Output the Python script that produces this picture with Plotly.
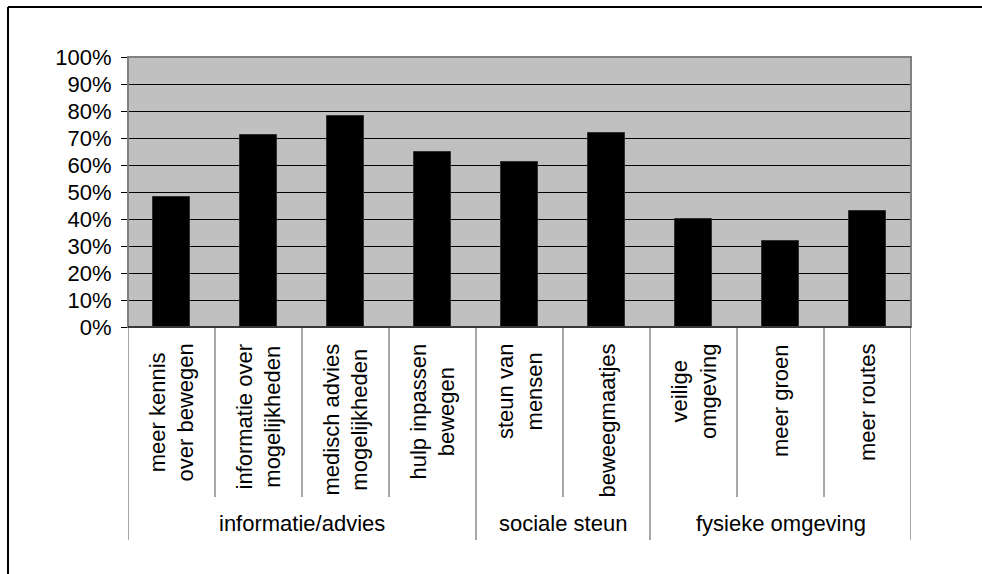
import plotly.graph_objects as go

# Survey results: share of respondents per wish, grouped by theme
labels = [
    "meer kennis<br>over bewegen",
    "informatie over<br>mogelijkheden",
    "medisch advies<br>mogelijkheden",
    "hulp inpassen<br>bewegen",
    "steun van<br>mensen",
    "beweegmaatjes",
    "veilige<br>omgeving",
    "meer groen",
    "meer routes",
]
values = [48, 71, 78, 65, 61, 72, 40, 32, 43]
groups = ["informatie/advies", "sociale steun", "fysieke omgeving"]
group_sizes = [4, 2, 3]

W, H = 982, 574
L, R, T, B = 128, 911, 57, 327  # plot-area edges in pixels

FONT = "Liberation Sans, Arial, sans-serif"
FS = 22


def py(p):
    """pixel row -> paper y"""
    return (B - p) / (B - T)


def px(p):
    """pixel column -> paper x"""
    return (p - L) / (R - L)


x_idx = list(range(len(values)))

fig = go.Figure(
    go.Bar(
        x=x_idx,
        y=values,
        width=0.42,
        marker=dict(color="black", line=dict(color="#303030", width=1)),
        hoverinfo="skip",
    )
)

shapes = []
annotations = []

# category labels (rotated) and separators under the axis
for i, lab in enumerate(labels):
    annotations.append(dict(
        x=i, xref="x", y=py(342), yref="paper",
        text=lab, textangle=-90, showarrow=False,
        xanchor="center", yanchor="top", align="center",
        font=dict(family=FONT, size=FS, color="black"),
    ))

bounds = [0]
for s in group_sizes:
    bounds.append(bounds[-1] + s)

for k in range(len(values) + 1):
    xpos = k - 0.5
    long_line = k in bounds
    shapes.append(dict(
        type="line", xref="x", yref="paper",
        x0=xpos, x1=xpos, y0=0, y1=py(540 if long_line else 497),
        line=dict(color="#505050", width=1),
    ))

# group labels
for g, a, b in zip(groups, bounds[:-1], bounds[1:]):
    annotations.append(dict(
        x=(a + b - 1) / 2, xref="x", y=py(523), yref="paper",
        text=g, showarrow=False, xanchor="center", yanchor="middle",
        font=dict(family=FONT, size=FS, color="black"),
    ))

# plot-area frame
shapes.append(dict(
    type="rect", xref="paper", yref="paper", x0=0, x1=1, y0=0, y1=1,
    line=dict(color="#808080", width=2), layer="above",
))
shapes.append(dict(
    type="line", xref="paper", yref="paper", x0=0, x1=1, y0=0, y1=0,
    line=dict(color="#202020", width=1.5), layer="above",
))

# outer chart border (top and left edges)
shapes.append(dict(
    type="line", xref="paper", yref="paper",
    x0=px(8), x1=px(990), y0=py(7), y1=py(7),
    line=dict(color="black", width=2),
))
shapes.append(dict(
    type="line", xref="paper", yref="paper",
    x0=px(8), x1=px(8), y0=py(7), y1=py(580),
    line=dict(color="black", width=2),
))

fig.update_layout(
    width=W, height=H,
    margin=dict(l=L, r=W - R, t=T, b=H - B, pad=0),
    paper_bgcolor="white",
    plot_bgcolor="#c0c0c0",
    showlegend=False,
    bargap=0,
    shapes=shapes,
    annotations=annotations,
    font=dict(family=FONT, size=FS, color="black"),
    xaxis=dict(
        range=[-0.5, len(values) - 0.5],
        showticklabels=False, ticks="", showgrid=False,
        zeroline=False, showline=False, fixedrange=True,
    ),
    yaxis=dict(
        range=[0, 100], dtick=10, tick0=0, ticksuffix="%",
        showgrid=True, gridcolor="black", gridwidth=1,
        zeroline=False, showline=False,
        ticks="outside", ticklen=6, tickcolor="black", tickwidth=1,
        ticklabelstandoff=5,
        tickfont=dict(family=FONT, size=FS, color="black"),
        fixedrange=True,
    ),
)

fig.write_html("out.html")
